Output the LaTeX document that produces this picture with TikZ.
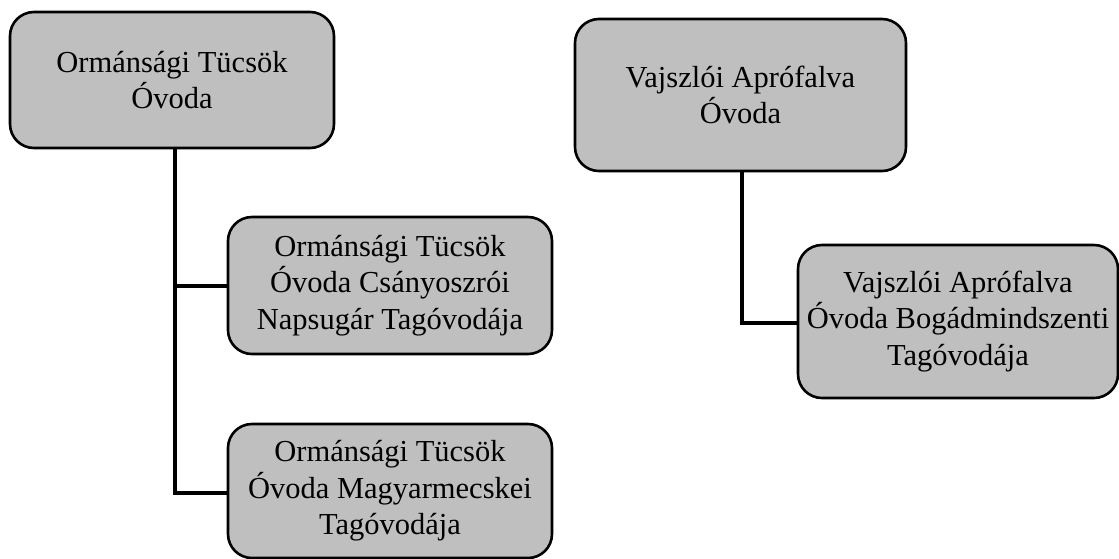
\documentclass[tikz,border=0pt]{standalone}
\usepackage{fontspec}
\setmainfont{Liberation Serif}
\begin{document}
\begin{tikzpicture}[x=1pt,y=-1pt,
  orgbox/.style={draw=black, line width=2.6pt, rounded corners=24pt, fill=black!25,
    align=center, inner sep=0pt, font=\fontsize{30.5}{36.5}\selectfont},
  link/.style={line width=4.5pt, line cap=rect}]
\useasboundingbox (0,0) rectangle (1119,558);
\clip (0,0) rectangle (1119,558);
\node[orgbox, minimum width=324pt, minimum height=136pt] (a) at (172,80) {Ormánsági Tücsök\\Óvoda};
\node[orgbox, minimum width=324pt, minimum height=137pt] (b) at (390,285.5) {Ormánsági Tücsök\\Óvoda Csányoszrói\\Napsugár Tagóvodája};
\node[orgbox, minimum width=324pt, minimum height=134pt] (c) at (390,491) {Ormánsági Tücsök\\Óvoda Magyarmecskei\\Tagóvodája};
\node[orgbox, minimum width=331pt, minimum height=152pt] (d) at (740.5,95) {Vajszlói Aprófalva\\Óvoda};
\node[orgbox, minimum width=320pt, minimum height=153pt] (e) at (958,321.5) {Vajszlói Aprófalva\\Óvoda Bogádmindszenti\\Tagóvodája};
\coordinate (ja) at (175,286);
\coordinate (jb) at (175,493);
\coordinate (jd) at (742,323);
\draw[link] (a.south -| ja) -- (jb) -- (jb -| c.west);
\draw[link] (ja) -- (ja -| b.west);
\draw[link] (d.south -| jd) -- (jd) -- (jd -| e.west);
\end{tikzpicture}
\end{document}
